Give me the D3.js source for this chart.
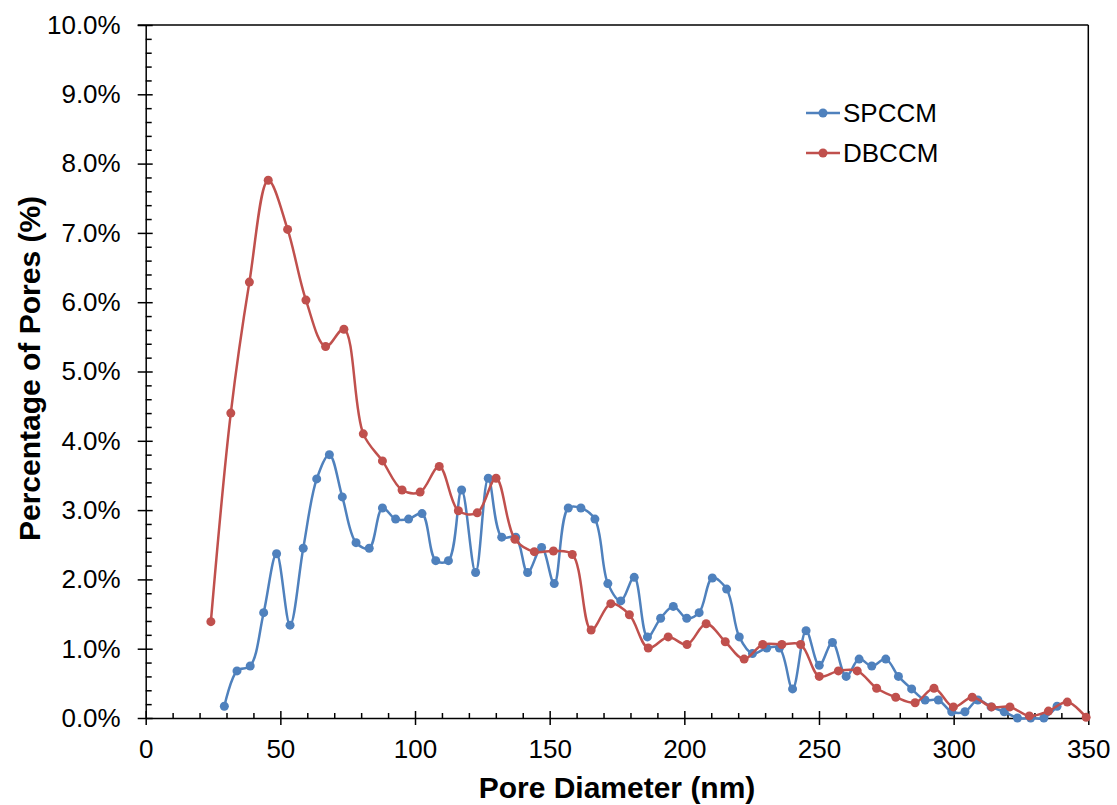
<!DOCTYPE html>
<html>
<head>
<meta charset="utf-8">
<script src="https://cdn.jsdelivr.net/npm/d3@7"></script>
<style>
  body { margin: 0; background: #fff; }
  svg { font-family: Arial, "Liberation Sans", sans-serif; }
</style>
</head>
<body>
<svg id="drawspace" width="1117" height="805"></svg>
<script>
// pore size distribution, values in percent
let spccmDiameter = [29.2, 33.9, 38.8, 43.8, 48.6, 53.6, 58.5, 63.5, 68.2, 73.0,
  78.1, 83.0, 87.9, 92.8, 97.6, 102.6, 107.7, 112.4, 117.3, 122.5,
  127.2, 132.2, 137.4, 141.8, 147.0, 151.7, 156.9, 161.6, 166.8, 171.6,
  176.4, 181.4, 186.3, 191.2, 195.9, 200.9, 205.5, 210.4, 215.7, 220.4,
  225.3, 230.6, 235.3, 240.2, 245.2, 250.1, 255.0, 260.1, 264.9, 269.6,
  274.8, 279.5, 284.4, 289.4, 294.3, 299.3, 304.2, 309.0, 313.9, 318.8,
  323.7, 328.6, 333.5, 338.4];
let spccmPct = [0.17, 0.68, 0.75, 1.52, 2.37, 1.34, 2.45, 3.45, 3.80, 3.19,
  2.53, 2.45, 3.03, 2.87, 2.87, 2.95, 2.27, 2.27, 3.29, 2.10,
  3.46, 2.61, 2.61, 2.10, 2.46, 1.94, 3.03, 3.03, 2.87, 1.94,
  1.69, 2.03, 1.17, 1.44, 1.61, 1.44, 1.52, 2.02, 1.86, 1.17,
  0.93, 1.01, 1.01, 0.42, 1.26, 0.76, 1.09, 0.60, 0.85, 0.75,
  0.85, 0.60, 0.42, 0.26, 0.26, 0.09, 0.09, 0.26, 0.16, 0.09,
  0.00, 0.00, 0.00, 0.17];

let dbccmDiameter = [24.2, 31.6, 38.5, 45.5, 52.7, 59.5, 66.8, 73.6, 80.8, 87.9,
  95.2, 101.9, 109.0, 116.1, 123.1, 130.1, 137.1, 144.3, 151.4, 158.4,
  165.4, 172.7, 179.6, 186.6, 194.0, 201.0, 208.1, 215.2, 222.2, 229.1,
  236.2, 243.2, 250.1, 257.2, 264.2, 271.4, 278.5, 285.7, 292.7, 299.9,
  306.9, 314.1, 320.9, 328.1, 335.2, 342.2, 349.2];
let dbccmPct = [1.39, 4.40, 6.29, 7.76, 7.05, 6.03, 5.36, 5.61, 4.10, 3.71,
  3.29, 3.26, 3.63, 2.99, 2.96, 3.46, 2.58, 2.40, 2.41, 2.36,
  1.27, 1.65, 1.49, 1.01, 1.17, 1.06, 1.36, 1.10, 0.85, 1.06,
  1.06, 1.06, 0.60, 0.68, 0.68, 0.43, 0.30, 0.22, 0.43, 0.16,
  0.30, 0.16, 0.16, 0.03, 0.10, 0.23, 0.01];

let seriesNames = ["SPCCM", "DBCCM"];
let seriesColors = ["#4F81BD", "#C0504D"];

let xTicks = [0, 50, 100, 150, 200, 250, 300, 350];
let yTicks = [0, 0.01, 0.02, 0.03, 0.04, 0.05, 0.06, 0.07, 0.08, 0.09, 0.10];

let svg = d3.select("#drawspace");

let plotL = 145.7, plotR = 1088.3, plotT = 25, plotB = 718;

let x = d3.scaleLinear().domain([0, 350]).range([plotL, plotR]);
let y = d3.scaleLinear().domain([0, 0.10]).range([plotB, plotT]);

let series = [
  { name: seriesNames[0], color: seriesColors[0],
    values: spccmDiameter.map((d, i) => ({ d: d, p: spccmPct[i] / 100 })) },
  { name: seriesNames[1], color: seriesColors[1],
    values: dbccmDiameter.map((d, i) => ({ d: d, p: dbccmPct[i] / 100 })) }
];

// plot frame (top and right)
svg.append("line")
  .attr("x1", plotL - 8).attr("x2", plotR)
  .attr("y1", plotT).attr("y2", plotT)
  .attr("stroke", "#000").attr("stroke-width", 1.5);
svg.append("line")
  .attr("x1", plotR).attr("x2", plotR)
  .attr("y1", plotT).attr("y2", plotB)
  .attr("stroke", "#000").attr("stroke-width", 1.5);

// minor ticks, pointing inward
let xMinor = d3.range(0, 351, 10).filter(v => v % 50 !== 0);
svg.append("g")
  .attr("transform", `translate(0,${plotB})`)
  .call(d3.axisBottom(x).tickValues(xMinor).tickSize(-5).tickFormat(""))
  .call(g => g.select(".domain").remove())
  .selectAll("line").attr("stroke-width", 1.5);

let yMinor = d3.range(0, 0.1001, 0.002).filter((v, i) => i % 5 !== 0);
svg.append("g")
  .attr("transform", `translate(${plotL},0)`)
  .call(d3.axisLeft(y).tickValues(yMinor).tickSize(-6).tickFormat(""))
  .call(g => g.select(".domain").remove())
  .selectAll("line").attr("stroke-width", 1.5);

// major axes, ticks cross the axis line
let xAxis = svg.append("g")
  .attr("transform", `translate(0,${plotB})`)
  .call(d3.axisBottom(x).tickValues(xTicks).tickSizeInner(7).tickSizeOuter(0).tickPadding(15));
xAxis.selectAll(".tick line").attr("y1", -7);
xAxis.selectAll("line, path").attr("stroke", "#000").attr("stroke-width", 1.5);
xAxis.selectAll("text").attr("font-size", 26).attr("fill", "#000")
  .attr("font-family", "Arial, 'Liberation Sans', sans-serif");

let yAxis = svg.append("g")
  .attr("transform", `translate(${plotL},0)`)
  .call(d3.axisLeft(y).tickValues(yTicks).tickFormat(d3.format(".1%"))
    .tickSizeInner(8).tickSizeOuter(0).tickPadding(17));
yAxis.selectAll(".tick line").attr("x1", 7);
yAxis.selectAll("line, path").attr("stroke", "#000").attr("stroke-width", 1.5);
yAxis.selectAll("text").attr("font-size", 26).attr("fill", "#000")
  .attr("font-family", "Arial, 'Liberation Sans', sans-serif");

// smoothed lines with markers
let line = d3.line()
  .x(v => x(v.d))
  .y(v => y(v.p))
  .curve(d3.curveCatmullRom.alpha(0.5));

let groups = svg.selectAll("g.series")
  .data(series)
  .enter()
  .append("g")
  .attr("class", "series");

groups.append("path")
  .attr("d", s => line(s.values))
  .attr("fill", "none")
  .attr("stroke", s => s.color)
  .attr("stroke-width", 2.5);

groups.selectAll("circle")
  .data(s => s.values.map(v => ({ ...v, color: s.color })))
  .enter()
  .append("circle")
  .attr("cx", v => x(v.d))
  .attr("cy", v => y(v.p))
  .attr("r", 4.5)
  .attr("fill", v => v.color);

// legend
let legend = svg.append("g").attr("transform", "translate(806,113)");
let item = legend.selectAll("g")
  .data(series)
  .enter()
  .append("g")
  .attr("transform", (s, i) => `translate(0,${i * 40})`);
item.append("line")
  .attr("x1", 0).attr("x2", 34)
  .attr("stroke", s => s.color).attr("stroke-width", 2.5);
item.append("circle")
  .attr("cx", 17).attr("r", 4.5)
  .attr("fill", s => s.color);
item.append("text")
  .attr("x", 37).attr("dy", "0.35em")
  .attr("font-size", 26)
  .text(s => s.name);

// axis titles
svg.append("text")
  .attr("x", (plotL + plotR) / 2).attr("y", 798)
  .attr("text-anchor", "middle")
  .attr("font-size", 30).attr("font-weight", "bold")
  .text("Pore Diameter (nm)");

svg.append("text")
  .attr("transform", `translate(40,${(plotT + plotB) / 2 - 3}) rotate(-90)`)
  .attr("text-anchor", "middle")
  .attr("font-size", 30).attr("font-weight", "bold")
  .text("Percentage of Pores (%)");
</script>
</body>
</html>
